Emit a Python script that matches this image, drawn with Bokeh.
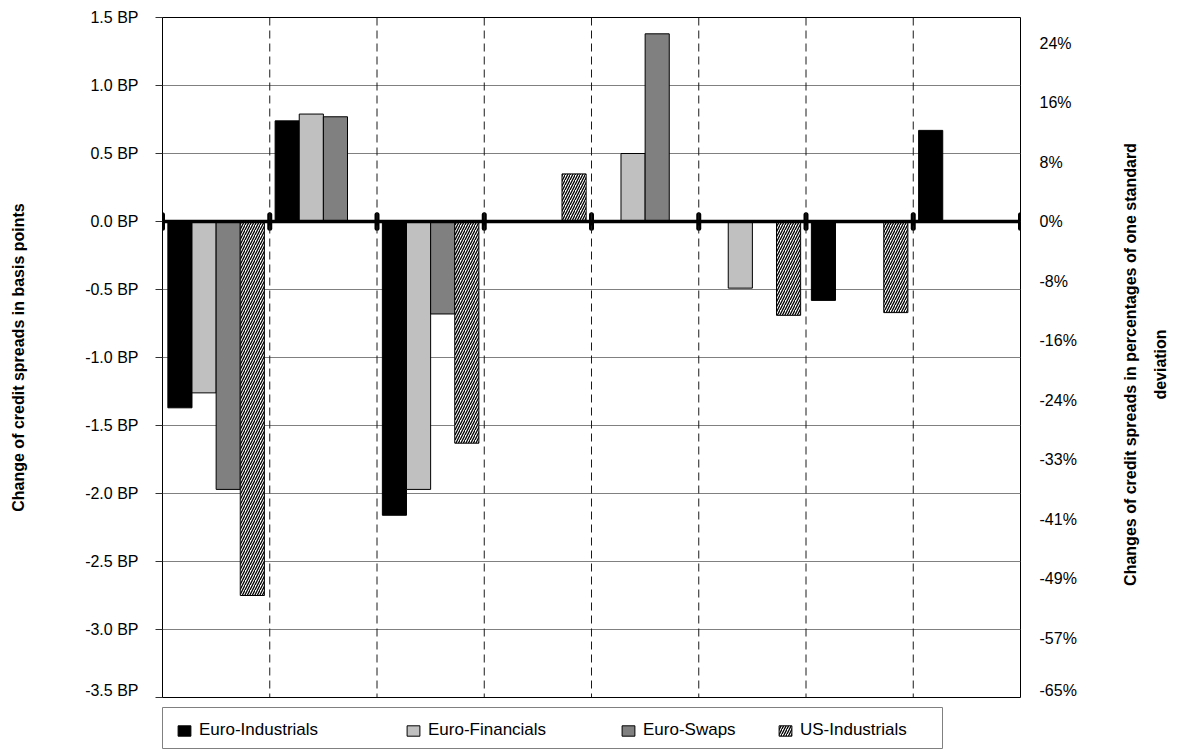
from bokeh.plotting import figure
from bokeh.layouts import column, row
from bokeh.models import Range1d, LinearAxis, FixedTicker, Legend, LegendItem, Span, Label
from bokeh.embed import file_html
from bokeh.resources import INLINE

# ---------------- data ----------------
n_groups = 8
series = ["Euro-Industrials", "Euro-Financials", "Euro-Swaps", "US-Industrials"]
euro_industrials = [-1.37, 0.74, -2.16, None, None, None, -0.58, 0.67]
euro_financials = [-1.26, 0.79, -1.97, None, 0.50, -0.49, None, None]
euro_swaps = [-1.97, 0.77, -0.68, None, 1.38, None, None, None]
us_industrials = [-2.75, None, -1.63, 0.35, None, -0.69, -0.67, None]

left_ticks = [-3.5, -3.0, -2.5, -2.0, -1.5, -1.0, -0.5, 0.0, 0.5, 1.0, 1.5]
left_tick_labels = ["-3.5 BP", "-3.0 BP", "-2.5 BP", "-2.0 BP", "-1.5 BP", "-1.0 BP",
                    "-0.5 BP", "0.0 BP", "0.5 BP", "1.0 BP", "1.5 BP"]
right_ticks = [-65.0, -56.875, -48.75, -40.625, -32.5, -24.375, -16.25, -8.125,
               0.0, 8.125, 16.25, 24.375]
right_tick_labels = ["-65%", "-57%", "-49%", "-41%", "-33%", "-24%", "-16%", "-8%",
                     "0%", "8%", "16%", "24%"]
pct_per_bp = 65.0 / 3.5
left_title = "Change of credit spreads in basis points"
right_title_lines = ["Changes of credit spreads in percentages of one standard", "deviation"]

FONT = "Liberation Sans"
NAN = float("nan")

# ---------------- main chart ----------------
MAIN_W, TITLE_W = 1100, 77
p = figure(width=MAIN_W, height=698, output_backend="svg", toolbar_location=None,
           x_range=Range1d(0, n_groups), y_range=Range1d(-3.5, 1.5),
           min_border_left=162, min_border_right=80, min_border_top=17,
           min_border_bottom=1)
p.background_fill_color = "white"
p.border_fill_color = "white"
p.outline_line_color = "black"
p.outline_line_width = 1

p.extra_y_ranges = {"pct": Range1d(-3.5 * pct_per_bp, 1.5 * pct_per_bp)}

p.xgrid.visible = False
p.ygrid.ticker = FixedTicker(ticks=left_ticks)
p.ygrid.grid_line_color = "#808080"
p.ygrid.grid_line_width = 1

for b in range(1, n_groups):
    p.add_layout(Span(location=b, dimension="height", line_color="#1a1a1a",
                      line_width=1, line_dash="8 5"))

fills = ["black", "#C0C0C0", "#808080", "white"]
values = [euro_industrials, euro_financials, euro_swaps, us_industrials]
offsets = [-0.3375, -0.1125, 0.1125, 0.3375]
bar_w = 0.225
hatch = dict(hatch_pattern="/", hatch_color="black", hatch_scale=5, hatch_weight=1.3)
for s, vals, fill, off in zip(series, values, fills, offsets):
    xs = [i + 0.5 + off for i, v in enumerate(vals) if v is not None]
    ys = [v for v in vals if v is not None]
    kw = dict(x=xs, top=ys, bottom=0, width=bar_w, fill_color=fill,
              line_color="black", line_width=1)
    if s == "US-Industrials":
        kw.update(hatch)
    p.vbar(**kw)

p.add_layout(Span(location=0, dimension="width", line_color="black", line_width=3.5))
bounds = list(range(0, n_groups + 1))
p.segment(x0=bounds, y0=[-0.05] * len(bounds), x1=bounds, y1=[0.05] * len(bounds),
          line_color="black", line_width=5, line_cap="round")

p.xaxis.visible = False
ya = p.yaxis[0]
ya.ticker = FixedTicker(ticks=left_ticks)
ya.major_label_overrides = dict(zip(left_ticks, left_tick_labels))
ya.major_tick_out = 7
ya.major_tick_in = 0
ya.minor_tick_line_color = None
ya.axis_line_color = "black"
ya.major_tick_line_color = "#333333"
ya.major_label_text_font = FONT
ya.major_label_text_font_size = "16px"
ya.major_label_text_color = "black"
ya.major_label_standoff = 17
ya.axis_label = left_title
ya.axis_label_text_font = FONT
ya.axis_label_text_font_style = "bold"
ya.axis_label_text_font_size = "16px"
ya.axis_label_text_color = "black"
ya.axis_label_standoff = 55

ra = LinearAxis(y_range_name="pct", ticker=FixedTicker(ticks=right_ticks))
ra.major_label_overrides = dict(zip(right_ticks, right_tick_labels))
ra.major_tick_out = 0
ra.major_tick_in = 0
ra.minor_tick_line_color = None
ra.axis_line_color = None
ra.major_label_text_font = FONT
ra.major_label_text_font_size = "16px"
ra.major_label_text_color = "black"
ra.major_label_standoff = 19
p.add_layout(ra, "right")

# ---------------- right-hand title (rotated, two lines) ----------------
pt = figure(width=TITLE_W, height=698, output_backend="svg", toolbar_location=None,
            x_range=Range1d(0, 1), y_range=Range1d(0, 1),
            min_border_left=0, min_border_right=0, min_border_top=0, min_border_bottom=0)
pt.axis.visible = False
pt.grid.visible = False
pt.outline_line_color = None
frame_mid = 698 - 365
for k, line in enumerate(right_title_lines):
    pt.add_layout(Label(x=30 + 30 * k, y=frame_mid, x_units="screen", y_units="screen",
                        text=line, angle=90, angle_units="deg",
                        text_align="center", text_baseline="middle",
                        text_font=FONT, text_font_style="bold",
                        text_font_size="16px", text_color="black"))

# ---------------- legend strip ----------------
pl = figure(width=MAIN_W + TITLE_W, height=51, output_backend="svg", toolbar_location=None,
            x_range=Range1d(0, 1), y_range=Range1d(0, 1),
            min_border_left=162, min_border_right=235, min_border_top=9, min_border_bottom=0)
pl.axis.visible = False
pl.grid.visible = False
pl.outline_line_color = "#808080"
pl.outline_line_width = 1
legend_x = [14, 243, 458, 615]
for s, fill, lx in zip(series, fills, legend_x):
    kw = dict(x=[NAN], top=[NAN], bottom=0, width=0.1, fill_color=fill,
              line_color="black", line_width=1)
    if s == "US-Industrials":
        kw.update(hatch)
    r = pl.vbar(**kw)
    lg = Legend(items=[LegendItem(label=s, renderers=[r])], location=(lx, 9),
                orientation="horizontal")
    lg.label_text_font = FONT
    lg.label_text_font_size = "17px"
    lg.label_text_color = "black"
    lg.glyph_width = 16
    lg.glyph_height = 13
    lg.label_standoff = 7
    lg.padding = 0
    lg.margin = 0
    lg.border_line_color = None
    lg.background_fill_alpha = 0
    pl.add_layout(lg, "center")

layout = column(row(p, pt), pl)
open("out.html", "w").write(file_html(layout, INLINE))
